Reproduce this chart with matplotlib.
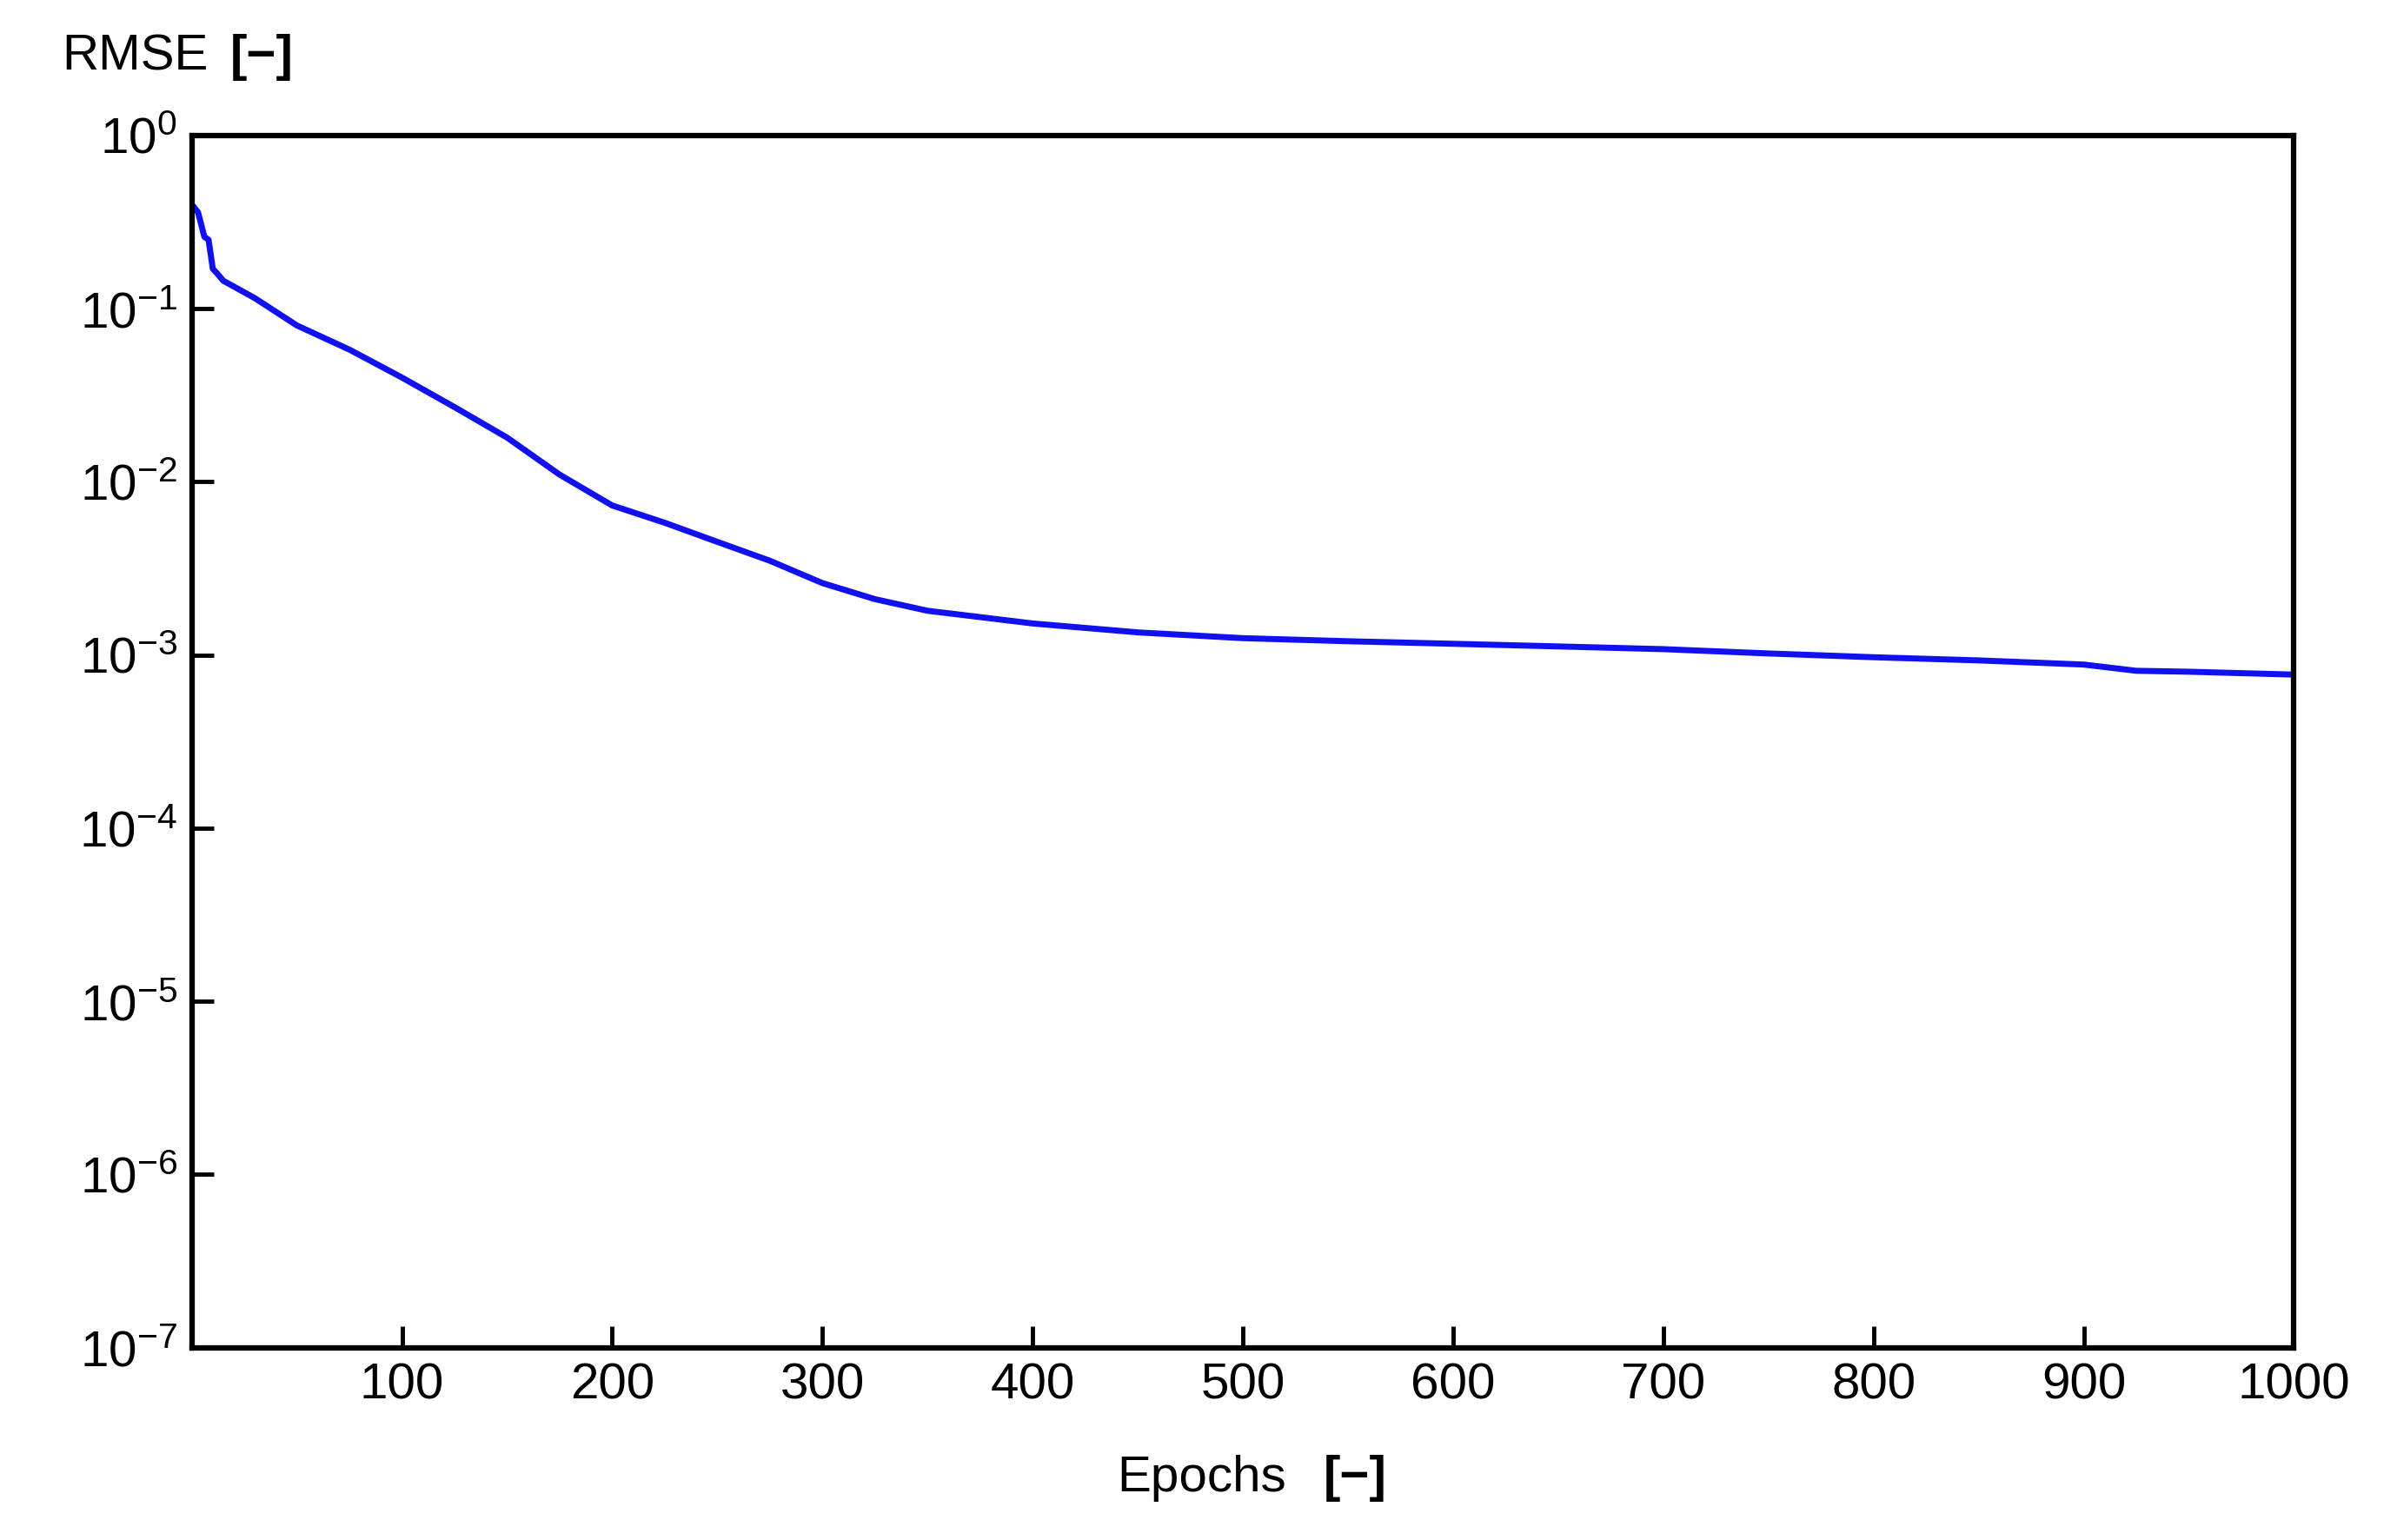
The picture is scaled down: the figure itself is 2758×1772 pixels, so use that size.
import matplotlib
matplotlib.use("Agg")
import matplotlib.pyplot as plt
from matplotlib.ticker import LogLocator, NullLocator

epochs = [0, 3, 6, 8, 10, 12, 15, 30, 50, 75, 100, 125, 150, 175, 200, 225, 250, 275, 300, 325, 350,
          400, 450, 500, 550, 600, 650, 700, 750, 800, 850, 900, 925, 950, 1000]
rmse = [0.40, 0.36, 0.26, 0.25, 0.17, 0.16, 0.145, 0.115, 0.08, 0.058, 0.04, 0.027, 0.018, 0.011, 0.0073,
        0.0058, 0.0045, 0.0035, 0.0026, 0.0021, 0.0018, 0.00152, 0.00135, 0.00125, 0.0012, 0.00116,
        0.00112, 0.00108, 0.00102, 0.00097, 0.00093, 0.00088, 0.00081, 0.0008, 0.00077]

plt.rcParams['font.family'] = ['Liberation Sans', 'DejaVu Sans']
fig = plt.figure(figsize=(27.58, 17.72), dpi=100)
ax = fig.add_axes([0.080, 0.125, 0.877, 0.787])
ax.plot(epochs, rmse, color="#1010f0", lw=5)
ax.set_yscale("log")
ax.set_xlim(0, 1000)
ax.set_ylim(1e-7, 1)
ax.set_xticks([100, 200, 300, 400, 500, 600, 700, 800, 900, 1000])
ax.yaxis.set_major_locator(LogLocator(base=10, numticks=10))
ax.yaxis.set_minor_locator(NullLocator())
ax.tick_params(direction="in", length=18, width=3.5, labelsize=42, pad=12)
for s in ax.spines.values():
    s.set_linewidth(4.5)
fig.text(0.026, 0.963, "RMSE", fontsize=42, va="center")
fig.text(0.096, 0.963, "[−]", fontsize=42, fontweight="bold", va="center")
fig.text(0.466, 0.040, "Epochs", fontsize=42, va="center")
fig.text(0.552, 0.040, "[−]", fontsize=42, fontweight="bold", va="center")
fig.savefig("out.png", dpi=100, facecolor="white")
